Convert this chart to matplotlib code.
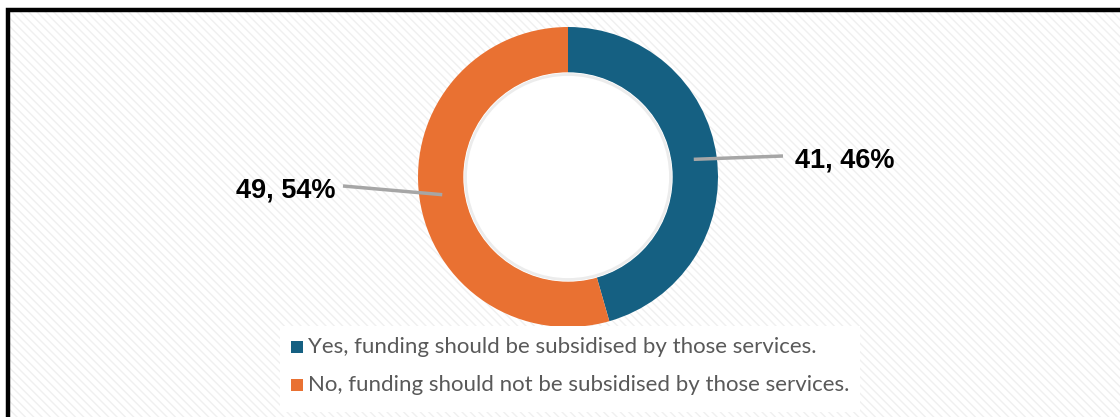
import matplotlib.pyplot as plt
from matplotlib.patches import Rectangle
import numpy as np

# data
labels = [
    "Yes, funding should be subsidised by those services.",
    "No, funding should not be subsidised by those services.",
]
counts = [41, 49]
colors = ["#156082", "#E97132"]

W, H = 1120, 417

fig = plt.figure(figsize=(W / 100, H / 100), dpi=100)
ax = fig.add_axes([0, 0, 1, 1])
ax.set_xlim(0, W)
ax.set_ylim(0, H)
ax.set_aspect("equal")
ax.axis("off")


def y(v):
    # image row -> data y
    return H - v


# chart frame with faint diagonal texture
plt.rcParams["hatch.linewidth"] = 1.0
frame = Rectangle((8, y(430)), W + 20, 420, facecolor="white",
                  edgecolor="#f0f0f0", hatch="\\\\\\\\", lw=0, zorder=0)
ax.add_patch(frame)
ax.add_patch(Rectangle((8, y(430)), W + 20, 420, facecolor="none",
                       edgecolor="black", lw=3.2, zorder=1))

# donut
cx, cy, R, ring = 568, 177, 150, 46
wedges, _ = ax.pie(counts, colors=colors, startangle=90, counterclock=False,
                   radius=R, center=(cx, y(cy)),
                   wedgeprops=dict(width=ring, edgecolor="none"))
ax.add_patch(plt.Circle((cx, y(cy)), R - ring, color="white", zorder=1))
ax.add_patch(plt.Circle((cx, y(cy)), R - ring - 1.5, facecolor="none",
                        edgecolor="#ececec", lw=2, zorder=1))
ax.set_xlim(0, W)
ax.set_ylim(0, H)

total = sum(counts)
label_pos = [(783, 156, "left"), (343, 186, "right")]
for w, n, (lx, ly, ha) in zip(wedges, counts, label_pos):
    ang = np.deg2rad((w.theta1 + w.theta2) / 2)
    r_mid = R - ring / 2
    sx = cx + r_mid * np.cos(ang)
    sy = y(cy) + r_mid * np.sin(ang)
    ax.plot([sx, lx], [sy, y(ly)], color="#a6a6a6", lw=2.5, zorder=3,
            solid_capstyle="butt")
    pct = round(n / total * 100)
    tx = lx + 12 if ha == "left" else lx - 8
    ax.text(tx, y(ly + 4), f"{n}, {pct}%", ha=ha, va="center",
            fontsize=19.5, fontweight="bold", family="Liberation Sans",
            color="black", zorder=4)

# legend
ax.add_patch(Rectangle((280, y(412)), 580, 86, facecolor="white",
                       edgecolor="none", zorder=2))
for i, (lab, col) in enumerate(zip(labels, colors)):
    ly = 347 + i * 38
    ax.add_patch(Rectangle((291, y(ly + 6)), 12, 12, facecolor=col,
                           edgecolor="none", zorder=3))
    ax.text(308, y(ly), lab, ha="left", va="center", fontsize=16,
            family="Lato", color="#595959", zorder=3)

fig.savefig("out.png", dpi=100)
